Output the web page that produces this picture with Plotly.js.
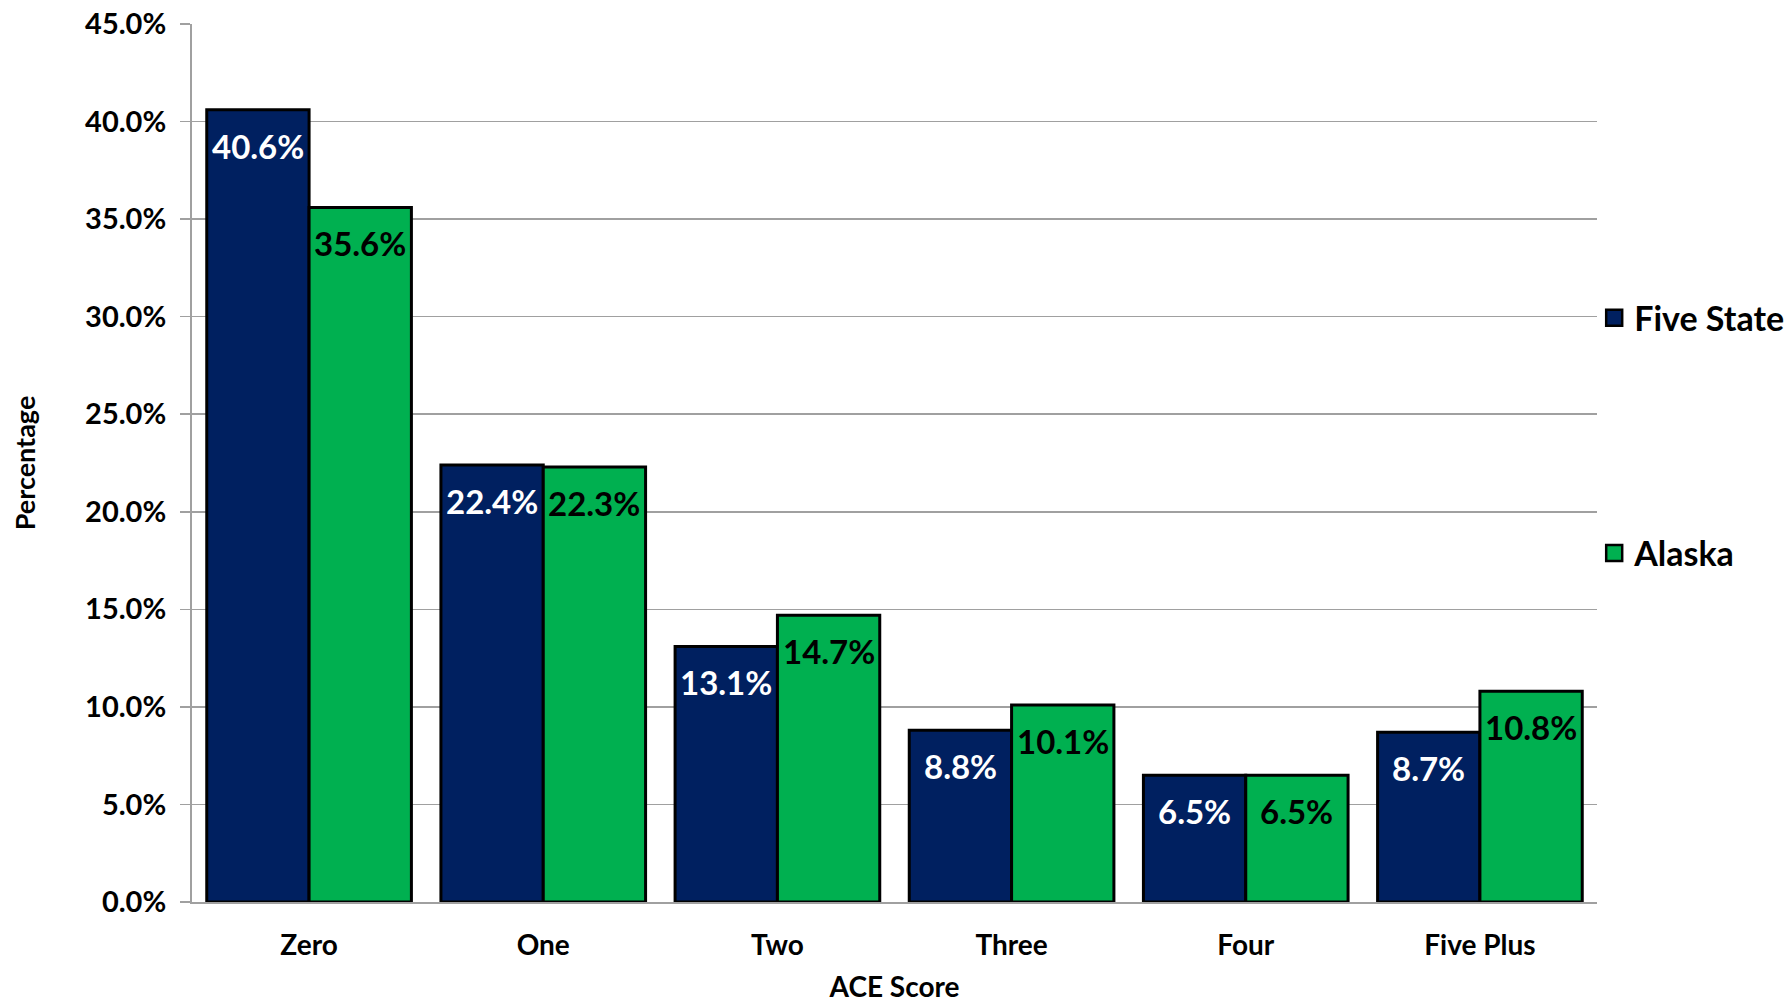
<!DOCTYPE html>
<html>
<head>
<meta charset="utf-8">
<script src="https://cdn.plot.ly/plotly-3.0.1.min.js"></script>
<style>html,body{margin:0;padding:0;background:#fff;}#chart{width:1791px;height:1003px;}</style>
</head>
<body>
<div id="chart"></div>
<script>
const categories = ["Zero", "One", "Two", "Three", "Four", "Five Plus"];
const fiveState = [40.6, 22.4, 13.1, 8.8, 6.5, 8.7];
const alaska = [35.6, 22.3, 14.7, 10.1, 6.5, 10.8];
const seriesNames = ["Five State", "Alaska"];
const seriesColors = ["#002060", "#00B050"];
const labelColors = ["#ffffff", "#000000"];
const yTickVals = [0, 5, 10, 15, 20, 25, 30, 35, 40, 45];
const yTickText = yTickVals.map(v => v.toFixed(1) + "%");

const FONT = "Lato, 'Open Sans', sans-serif";
const W = 700;
const BARGAP = 0.126;

function fmt(v){ return v.toFixed(1) + "%"; }

const seriesData = [fiveState, alaska];

const traces = [];
seriesData.forEach((vals, s) => {
  traces.push({
    type: "bar", name: seriesNames[s], x: categories, y: vals,
    marker: {color: seriesColors[s], line: {color: "#000000", width: 3}},
    showlegend: false, hoverinfo: "skip"
  });
});
// legend entries (square markers, no data drawn)
seriesData.forEach((vals, s) => {
  traces.push({
    type: "scatter", mode: "markers", name: seriesNames[s],
    x: [categories[0]], y: [null],
    marker: {symbol: "square", size: 16, color: seriesColors[s], line: {color: "#000000", width: 2.5}},
    legendgroup: "g" + s, showlegend: true, hoverinfo: "skip"
  });
});

// data labels placed at the top inside each bar
const annotations = [];
const half = (1 - BARGAP) / 4;
seriesData.forEach((vals, s) => {
  vals.forEach((v, i) => {
    annotations.push({
      xref: "x", yref: "y", x: i + (s === 0 ? -half : half), y: v,
      text: fmt(v), showarrow: false, yanchor: "middle", yshift: -36,
      font: {family: FONT, size: 33, color: labelColors[s], weight: W}
    });
  });
});

const layout = {
  width: 1791, height: 1003,
  margin: {l: 192, r: 194, t: 24, b: 101, pad: 0, autoexpand: false},
  paper_bgcolor: "#ffffff", plot_bgcolor: "#ffffff",
  font: {family: FONT, color: "#000000", weight: W},
  barmode: "group", bargap: BARGAP, bargroupgap: 0,
  showlegend: true,
  annotations: annotations,
  legend: {
    x: 0.998, xanchor: "left", y: 0.698, yanchor: "top",
    font: {family: FONT, size: 34, color: "#000000", weight: W},
    traceorder: "grouped", tracegroupgap: 188, itemsizing: "trace",
    bgcolor: "rgba(0,0,0,0)", itemwidth: 30
  },
  xaxis: {
    type: "category", showgrid: false, zeroline: false,
    showline: true, linecolor: "#a0a0a0", linewidth: 2,
    ticks: "", tickfont: {family: FONT, size: 28, weight: W},
    ticklabelstandoff: 17,
    title: {text: "ACE Score", font: {family: FONT, size: 28, weight: W}, standoff: 31}
  },
  yaxis: {
    range: [0, 45], tickvals: yTickVals, ticktext: yTickText,
    showgrid: true, gridcolor: "#a0a0a0", gridwidth: 1.5,
    zeroline: false, showline: true, linecolor: "#a0a0a0", linewidth: 2,
    ticks: "outside", ticklen: 10, tickcolor: "#a0a0a0", tickwidth: 1.5,
    tickfont: {family: FONT, size: 29, weight: W},
    ticklabelstandoff: 8,
    title: {text: "Percentage", font: {family: FONT, size: 27, weight: W}, standoff: 42}
  }
};

Plotly.newPlot("chart", traces, layout, {displayModeBar: false, staticPlot: true});
</script>
</body>
</html>
